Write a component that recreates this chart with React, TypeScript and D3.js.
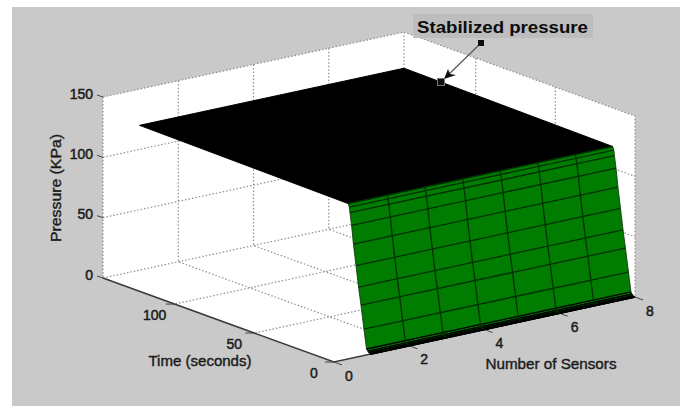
import * as d3 from "d3";

const sensorTicks = [0, 2, 4, 6, 8];
const timeTicks = [0, 50, 100];
const pressureTicks = [0, 50, 100, 150];

// surface samples
const sensors = [0.97, 2, 3, 4, 5, 6, 7, 8];
const timeRows = [0, 0.6, 1.2, 1.8, 2.5, 4.1, 6, 7.5, 9.1, 10.7, 11.9, 12.9, 13.3, 14];
const pressureRows = [0, 0.3, 0.8, 1.6, 3, 18.7, 37.7, 52, 69, 86, 101, 111, 115.4, 118];
const plateauTimes = [14, 145];
const plateauPressures = [118, 120];
const xMax = 8;
const tMax = 145;
const zMax = 150;

const originX = 334;
const originY = 362;
const sx = d3.scaleLinear().domain([0, xMax]).range([0, 301]);
const sy = d3.scaleLinear().domain([0, xMax]).range([0, -65]);
const tx = d3.scaleLinear().domain([0, tMax]).range([0, -231]);
const ty = d3.scaleLinear().domain([0, tMax]).range([0, -84]);
const zy = d3.scaleLinear().domain([0, zMax]).range([0, -181]);

type P3 = [number, number, number];

const project = ([x, t, z]: P3): [number, number] => [
  originX + sx(x) + tx(t),
  originY + sy(x) + ty(t) + zy(z),
];

const path3 = (pts: P3[], close = false) =>
  d3.line()(pts.map(project)) + (close ? "Z" : "");

const textFont = "'Liberation Sans', Arial, sans-serif";
const inkColor = "#1c1c1c";
const gridColor = "#8f8f8f";

function Dotted({ pts }: { pts: P3[] }) {
  return (
    <path
      d={path3(pts)}
      fill="none"
      stroke={gridColor}
      strokeWidth={1.2}
      strokeDasharray="1.5 2"
    />
  );
}

export default function App() {
  const x0 = 0;
  const x1 = sensors[0];
  const x8 = sensors[sensors.length - 1];
  const firstRow = 0;
  const lastRow = timeRows.length - 1;

  const rowPts = (i: number, x: number): P3 => [x, timeRows[i], pressureRows[i]];
  const wall = [
    [x0, tMax, zMax],
    [xMax, tMax, zMax],
    [xMax, 0, zMax],
    [xMax, 0, 0],
    [x0, 0, 0],
    [x0, tMax, 0],
  ] as P3[];

  const green = [
    ...timeRows.map((_, i) => rowPts(i, x1)),
    ...timeRows.map((_, i) => rowPts(lastRow - i, x8)),
  ];
  const top = [
    [x1, plateauTimes[0], plateauPressures[0]],
    [x1, plateauTimes[1], plateauPressures[1]],
    [x8, plateauTimes[1], plateauPressures[1]],
    [x8, plateauTimes[0], plateauPressures[0]],
  ] as P3[];

  return (
    <svg
      width={683}
      height={408}
      style={{ position: "absolute", left: 0, top: 0, display: "block" }}
      fontFamily={textFont}
    >
      <defs>
        <filter id="soft" x="-5%" y="-5%" width="110%" height="110%">
          <feGaussianBlur stdDeviation="0.45" />
        </filter>
      </defs>
      <rect x={0} y={0} width={683} height={408} fill="#fff" />
      <rect x={12} y={7} width={668} height={399} fill="#c9c9c9" />

      <g filter="url(#soft)">
        <path d={path3(wall, true)} fill="#fff" />

        {/* walls */}
        <Dotted pts={[[x0, tMax, zMax], [xMax, tMax, zMax], [xMax, 0, zMax], [xMax, 0, 0]]} />
        <Dotted pts={[[x0, tMax, zMax], [x0, tMax, 0]]} />
        <Dotted pts={[[xMax, tMax, zMax], [xMax, tMax, 0]]} />
        {sensorTicks.slice(1, -1).map((s) => (
          <g key={s}>
            <Dotted pts={[[s, tMax, zMax], [s, tMax, 0], [s, 0, 0]]} />
          </g>
        ))}
        {timeTicks.slice(1).map((t) => (
          <g key={t}>
            <Dotted pts={[[xMax, t, zMax], [xMax, t, 0], [x0, t, 0]]} />
          </g>
        ))}
        {pressureTicks.slice(1, -1).map((z) => (
          <g key={z}>
            <Dotted pts={[[x0, tMax, z], [xMax, tMax, z], [xMax, 0, z]]} />
          </g>
        ))}
        <Dotted pts={[[x0, tMax, 0], [xMax, tMax, 0], [xMax, 0, 0]]} />

        {/* axes */}
        <path
          d={path3([[x0, tMax, 0], [x0, 0, 0], [xMax, 0, 0]])}
          fill="none"
          stroke="#3a3a3a"
          strokeWidth={1.5}
        />
        {sensorTicks.map((s) => {
          const [a, b] = project([s, 0, 0]);
          return <line key={s} x1={a} y1={b} x2={a + 8} y2={b + 3} stroke="#444" strokeWidth={1} />;
        })}
        {timeTicks.map((t) => {
          const [a, b] = project([x0, t, 0]);
          return <line key={t} x1={a} y1={b} x2={a - 9} y2={b} stroke="#444" strokeWidth={1} />;
        })}
        {pressureTicks.map((z) => {
          const [a, b] = project([x0, tMax, z]);
          return <line key={z} x1={a} y1={b} x2={a - 6} y2={b - 2} stroke="#444" strokeWidth={1} />;
        })}

        {/* surface */}
        <path d={path3(top, true)} fill="#000" stroke="#000" strokeWidth={1} />
        <path d={path3(green, true)} fill="#047c04" stroke="#063006" strokeWidth={0.8} />
        {timeRows.map((_, i) => (
          <path
            key={i}
            d={path3([rowPts(i, x1), rowPts(i, x8)])}
            fill="none"
            stroke={i < 5 ? "#000" : "#043004"}
            strokeWidth={i < 5 ? 1.4 : 1.3}
          />
        ))}
        {sensors.slice(1, -1).map((s) => (
          <path
            key={s}
            d={path3(timeRows.map((_, i) => rowPts(i, s)))}
            fill="none"
            stroke="#043004"
            strokeWidth={1.3}
          />
        ))}
        <path
          d={path3([rowPts(firstRow, x1), rowPts(firstRow, x8)])}
          fill="none"
          stroke="#000"
          strokeWidth={1.6}
        />

        {/* annotation */}
        <line x1={481} y1={43} x2={445} y2={78} stroke="#555" strokeWidth={1.2} />
        <path d="M444 79 L448 69 L450 74 L456 75 Z" fill="#111" />
        <rect x={437.5} y={78.5} width={7} height={7} fill="#111" stroke="#777" strokeWidth={1} />
        <rect x={478} y={40} width={6} height={6} fill="#111" />
      </g>

      <rect x={413} y={14} width={180} height={24} fill="#bdbdbd" />
      <text
        x={417}
        y={32.5}
        fontSize={16.5}
        fontWeight={700}
        fill="#0c0c0c"
        textLength={171}
        lengthAdjust="spacingAndGlyphs"
      >
        Stabilized pressure
      </text>

      <g fontSize={14} fill={inkColor} stroke={inkColor} strokeWidth={0.5}>
        {pressureTicks.map((z) => {
          const [a, b] = project([x0, tMax, z]);
          return (
            <text key={z} x={a - 10} y={b - 2} textAnchor="end" dominantBaseline="middle">
              {z}
            </text>
          );
        })}
        {timeTicks.map((t) => {
          const [a, b] = project([x0, t, 0]);
          return (
            <text key={t} x={a - 20} y={b + 12} textAnchor="middle" dominantBaseline="middle">
              {t}
            </text>
          );
        })}
        {sensorTicks.map((s) => {
          const [a, b] = project([s, 0, 0]);
          return (
            <text key={s} x={a + 15} y={b + 15} textAnchor="middle" dominantBaseline="middle">
              {s}
            </text>
          );
        })}
      </g>

      <g fontSize={14.5} fill={inkColor} stroke={inkColor} strokeWidth={0.4}>
        <text
          transform="translate(57 188) rotate(-90)"
          textAnchor="middle"
          dominantBaseline="middle"
          textLength={108}
          lengthAdjust="spacingAndGlyphs"
        >
          Pressure (KPa)
        </text>
        <text
          x={200}
          y={362}
          textAnchor="middle"
          dominantBaseline="middle"
          textLength={103}
          lengthAdjust="spacingAndGlyphs"
        >
          Time (seconds)
        </text>
        <text
          x={551}
          y={365}
          textAnchor="middle"
          dominantBaseline="middle"
          textLength={131}
          lengthAdjust="spacingAndGlyphs"
        >
          Number of Sensors
        </text>
      </g>
    </svg>
  );
}
